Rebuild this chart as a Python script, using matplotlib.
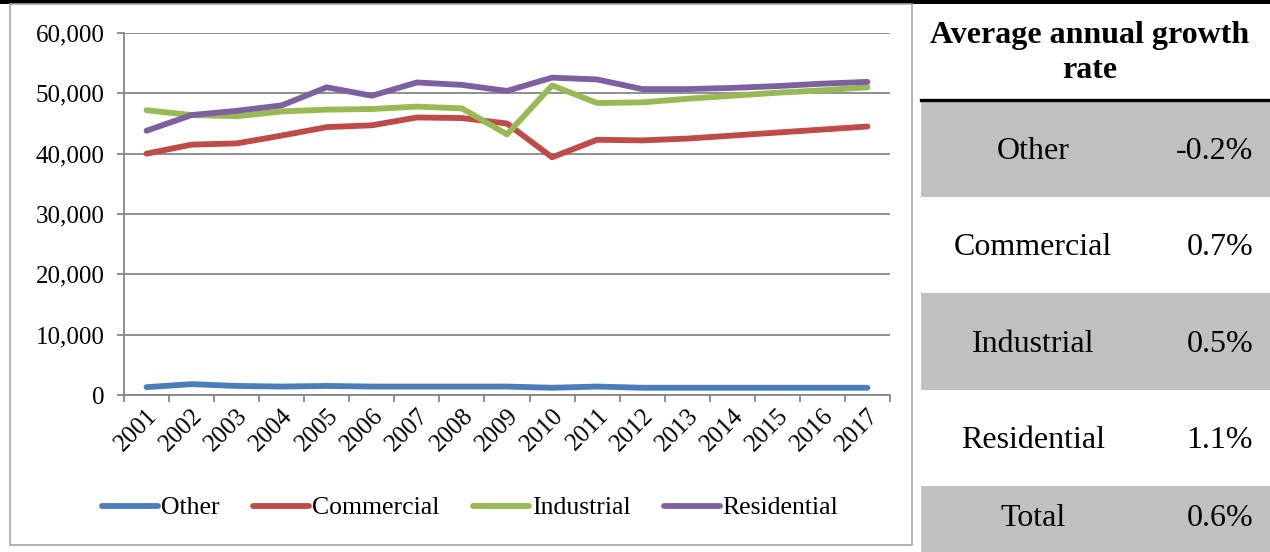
import numpy as np
import matplotlib.pyplot as plt
from matplotlib.patches import Rectangle
from matplotlib.ticker import FuncFormatter, FixedLocator

plt.rcParams['font.family'] = ['Liberation Serif', 'DejaVu Serif']

years = [str(y) for y in range(2001, 2018)]

other = [1300, 1800, 1500, 1400, 1500, 1400, 1400, 1400, 1400, 1200, 1400,
         1200, 1200, 1200, 1200, 1200, 1200]
commercial = [40000, 41500, 41700, 43000, 44400, 44700, 46000, 45900, 45000,
              39400, 42300, 42200, 42500, 43000, 43500, 44000, 44500]
industrial = [47200, 46400, 46200, 47000, 47300, 47400, 47800, 47500, 43200,
              51300, 48400, 48500, 49100, 49600, 50100, 50500, 51000]
residential = [43800, 46400, 47100, 48000, 51000, 49600, 51800, 51400, 50400,
               52600, 52300, 50700, 50700, 50900, 51200, 51600, 51900]

series_names = ['Other', 'Commercial', 'Industrial', 'Residential']
series_colors = ['#4a7ebb', '#be4b48', '#98b954', '#7d60a0']

table_labels = ['Other', 'Commercial', 'Industrial', 'Residential', 'Total']
table_rates = [-0.2, 0.7, 0.5, 1.1, 0.6]

W, H = 1270, 552
fig = plt.figure(figsize=(W / 100, H / 100), dpi=100)

# background layer in pixel coordinates: frame, black rule, growth table
bg = fig.add_axes([0, 0, 1, 1])
bg.set_xlim(0, W)
bg.set_ylim(H, 0)
bg.axis('off')
bg.add_patch(Rectangle((0, 0), W, 3.5, color='black', lw=0))
bg.add_patch(Rectangle((10, 4), 902, 541, fill=False, ec='#a6a6a6', lw=1.2))

row_top = 100
row_h = 96.5
for i, (lab, rate) in enumerate(zip(table_labels, table_rates)):
    y0 = row_top + i * row_h
    if i % 2 == 0:
        bg.add_patch(Rectangle((921, y0), W - 921, row_h, color='#c0c0c0', lw=0))
    yc = min(y0 + row_h / 2 + 3, 519)
    bg.text(1033, yc, lab, ha='center', va='center', fontsize=23)
    bg.text(1253, yc, f'{rate:.1f}%', ha='right', va='center', fontsize=23)
bg.plot([921, W], [row_top, row_top], color='black', lw=2.4)
bg.text(1090, 53, 'Average annual growth\nrate', ha='center', va='center',
        fontsize=23, fontweight='bold', linespacing=1.25)

# line chart
ax = fig.add_axes([124 / W, 1 - 395 / H, 766 / W, 362 / H])
x = np.arange(len(years))
for vals, name, col in zip([other, commercial, industrial, residential],
                           series_names, series_colors):
    ax.plot(x, vals, color=col, lw=4.2, label=name, solid_capstyle='round')

ax.set_xlim(-0.5, len(years) - 0.5)
ax.set_ylim(0, 60000)
ax.set_yticks(np.arange(0, 60001, 10000))
ax.yaxis.set_major_formatter(FuncFormatter(lambda v, p: f'{int(v):,}'))
ax.grid(axis='y', color='#868686', lw=1.3)
ax.set_axisbelow(True)

ax.set_xticks(x)
ax.set_xticklabels(years, rotation=45, ha='right', rotation_mode='anchor')
ax.xaxis.set_minor_locator(FixedLocator(np.arange(-0.5, len(years), 1.0)))
ax.tick_params(axis='x', which='major', length=0, pad=7, labelsize=18)
ax.tick_params(axis='x', which='minor', length=5, color='#868686', width=1.3)
ax.tick_params(axis='y', length=5, color='#868686', width=1.3, labelsize=18,
               pad=9)

for side in ['top', 'right']:
    ax.spines[side].set_visible(False)
for side in ['left', 'bottom']:
    ax.spines[side].set_color('#868686')
    ax.spines[side].set_linewidth(1.3)

ax.legend(loc='center', bbox_to_anchor=(470 / W, 1 - 508 / H),
          bbox_transform=fig.transFigure, ncol=4, frameon=False, fontsize=18.5,
          handlelength=2.2, handletextpad=0.1, columnspacing=1.3)

fig.savefig('out.png', dpi=100)
